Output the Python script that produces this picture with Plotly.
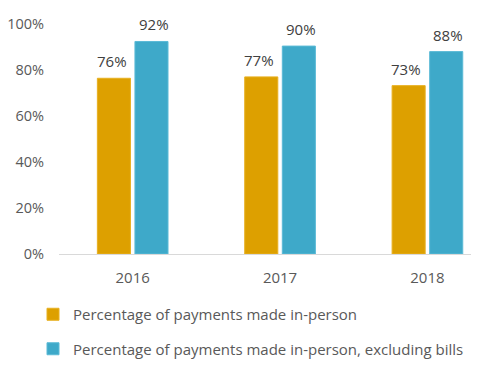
import plotly.graph_objects as go

years = ["2016", "2017", "2018"]
in_person = [76.4, 77.0, 73.2]
in_person_ex_bills = [92.4, 90.4, 88.0]
series_names = ["Percentage of payments made in-person",
                "Percentage of payments made in-person, excluding bills"]
y_ticks = [0, 20, 40, 60, 80, 100]
y_tick_labels = ["0%", "20%", "40%", "60%", "80%", "100%"]
colors = ["#DDA000", "#3EA9C9"]
edge_colors = ["#E8B020", "#5BBAD6"]

font = "Open Sans"
fs = 15
W, H = 471, 357  # page body has an 8px margin
fig = go.Figure()
for i, vals in enumerate([in_person, in_person_ex_bills]):
    fig.add_trace(go.Bar(x=years, y=vals, name=series_names[i],
                         marker=dict(color=colors[i], line=dict(color=edge_colors[i], width=1)),
                         legendgroup=str(i)))
    for j, v in enumerate(vals):
        fig.add_annotation(x=j, y=v, text=f"{v:.0f}%", showarrow=False,
                           xanchor="center", yanchor="bottom",
                           xshift=-21 if i == 0 else 21, yshift=5,
                           font=dict(family=font, size=fs, color="#404040"))

fig.update_layout(
    width=W, height=H,
    margin=dict(l=51, r=0, t=16, b=111, autoexpand=False),
    paper_bgcolor="white", plot_bgcolor="white",
    barmode="group", bargap=0.49, bargroupgap=0.12,
    font=dict(family=font, size=fs, color="#595959"),
    xaxis=dict(type="category", range=[-0.5, 2.35], showgrid=False,
               showline=True, linecolor="#D9D9D9", linewidth=1,
               ticks="outside", ticklen=10, tickcolor="rgba(0,0,0,0)",
               tickfont=dict(family=font, size=fs, color="#595959")),
    yaxis=dict(range=[0, 100], tickvals=y_ticks, ticktext=y_tick_labels,
               showgrid=False, zeroline=False, showline=False,
               ticks="", ticklabelstandoff=14,
               tickfont=dict(family=font, size=14.5, color="#595959")),
    legend=dict(orientation="v", x=25 / W, xref="container", xanchor="left",
                y=1 - 290 / H, yref="container", yanchor="top",
                traceorder="grouped", tracegroupgap=12,
                font=dict(family=font, size=fs, color="#595959"),
                itemwidth=30),
    showlegend=True,
)
fig.write_html("out.html")
